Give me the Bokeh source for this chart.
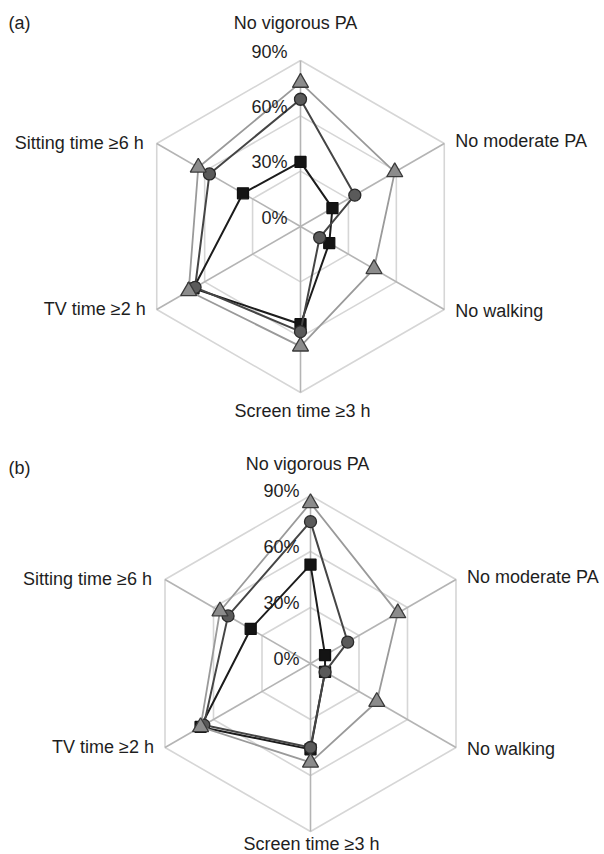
import numpy as np
from bokeh.plotting import figure
from bokeh.models import Range1d
from bokeh.layouts import column
from bokeh.core.properties import value
from bokeh.embed import file_html
from bokeh.resources import INLINE

# ---------------- data ----------------
categories = ["No vigorous PA", "No moderate PA", "No walking",
              "Screen time \u22653 h", "TV time \u22652 h", "Sitting time \u22656 h"]
angles_deg = [90, 30, -30, -90, 210, 150]
tick_values = [0, 30, 60, 90]
tick_labels = ["0%", "30%", "60%", "90%"]
ring_values = [30, 60, 90]

# panel (a)
tri_a = [78, 59, 46, 65, 70, 64]
circ_a = [69, 34, 12, 57, 66, 57]
sq_a = [35, 20, 18, 53, 67, 36]
# panel (b)
tri_b = [86, 54, 41, 53, 68, 56]
circ_b = [76, 23, 9, 45, 66, 51]
sq_b = [53, 9, 9, 46, 68, 37]

FONT = value("Liberation Sans")
TXT = "#1e1e1e"

# label offsets (screen px) relative to the outer vertex of each spoke
label_style = [
    ("center", None),
    ("left", (11, -3)),
    ("left", (11, 1)),
    ("center", None),
    ("right", (-11, -1)),
    ("right", (-13, -1)),
]


def make_panel(tag, tri, circ, sq, w, h, cx, cy, k, top_off, bot_off, tick_dx, tick_dy, tag_y):
    p = figure(width=w, height=h,
               x_range=Range1d(-cx / k, (w - cx) / k),
               y_range=Range1d(-(h - cy) / k, cy / k),
               output_backend="svg", toolbar_location=None,
               min_border=0, outline_line_color=None,
               x_axis_location=None, y_axis_location=None,
               background_fill_color="white", border_fill_color="white")
    p.xgrid.visible = False
    p.ygrid.visible = False

    th = np.deg2rad(angles_deg)
    cos_t, sin_t = np.cos(th), np.sin(th)

    # rings
    for rv in ring_values:
        xs = list(rv * cos_t) + [rv * cos_t[0]]
        ys = list(rv * sin_t) + [rv * sin_t[0]]
        p.line(xs, ys, line_color="#d6d6d6", line_width=1.6)
    # spokes
    R = max(tick_values)
    p.segment(x0=[0] * 6, y0=[0] * 6, x1=list(R * cos_t), y1=list(R * sin_t),
              line_color="#b4b4b4", line_width=1.6)

    # series: square (bottom), circle, triangle (top)
    series = [
        (sq, "square", 11, "#141414", "#101010", "#1c1c1c", 2.0),
        (circ, "circle", 12, "#5a5a5a", "#2a2a2a", "#454545", 2.0),
        (tri, "triangle", 16, "#8c8c8c", "#3a3a3a", "#9a9a9a", 1.8),
    ]
    for vals, mk, sz, fill, edge, lc, lw in series:
        v = np.array(vals, dtype=float)
        xs = v * cos_t
        ys = v * sin_t
        p.line(list(xs) + [xs[0]], list(ys) + [ys[0]], line_color=lc, line_width=lw)
        p.scatter(list(xs), list(ys), marker=mk, size=sz, fill_color=fill,
                  line_color=edge, line_width=1.3)

    # category labels
    for i, cat in enumerate(categories):
        vx, vy = R * cos_t[i], R * sin_t[i]
        align, off = label_style[i]
        if i == 0:
            off = top_off
        elif i == 3:
            off = bot_off
        dx, dy = off
        p.text(x=[vx + dx / k], y=[vy - dy / k], text=[cat], text_align=align,
               text_baseline="middle", text_font=FONT, text_font_size="18px",
               text_color=TXT)

    # tick labels on the top spoke
    p.text(x=[tick_dx / k] * len(tick_values),
           y=[tv - tick_dy / k for tv in tick_values],
           text=tick_labels, text_align="right", text_baseline="middle",
           text_font=FONT, text_font_size="18px", text_color=TXT)

    # panel tag
    p.text(x=[(8 - cx) / k], y=[(cy - tag_y) / k], text=[tag], text_align="left",
           text_baseline="middle", text_font=FONT, text_font_size="18px", text_color=TXT)
    return p


pa = make_panel("(a)", tri_a, circ_a, sq_a, w=604, h=436, cx=300, cy=226,
                k=166 / 90, top_off=(-5, -38), bot_off=(2, 18),
                tick_dx=-13, tick_dy=-9, tag_y=22)
pb = make_panel("(b)", tri_b, circ_b, sq_b, w=604, h=418, cx=310, cy=227,
                k=168 / 90, top_off=(-3, -32), bot_off=(1, 12),
                tick_dx=-11, tick_dy=-5, tag_y=31)

layout = column(pa, pb, spacing=0)
open("out.html", "w").write(file_html(layout, INLINE))
